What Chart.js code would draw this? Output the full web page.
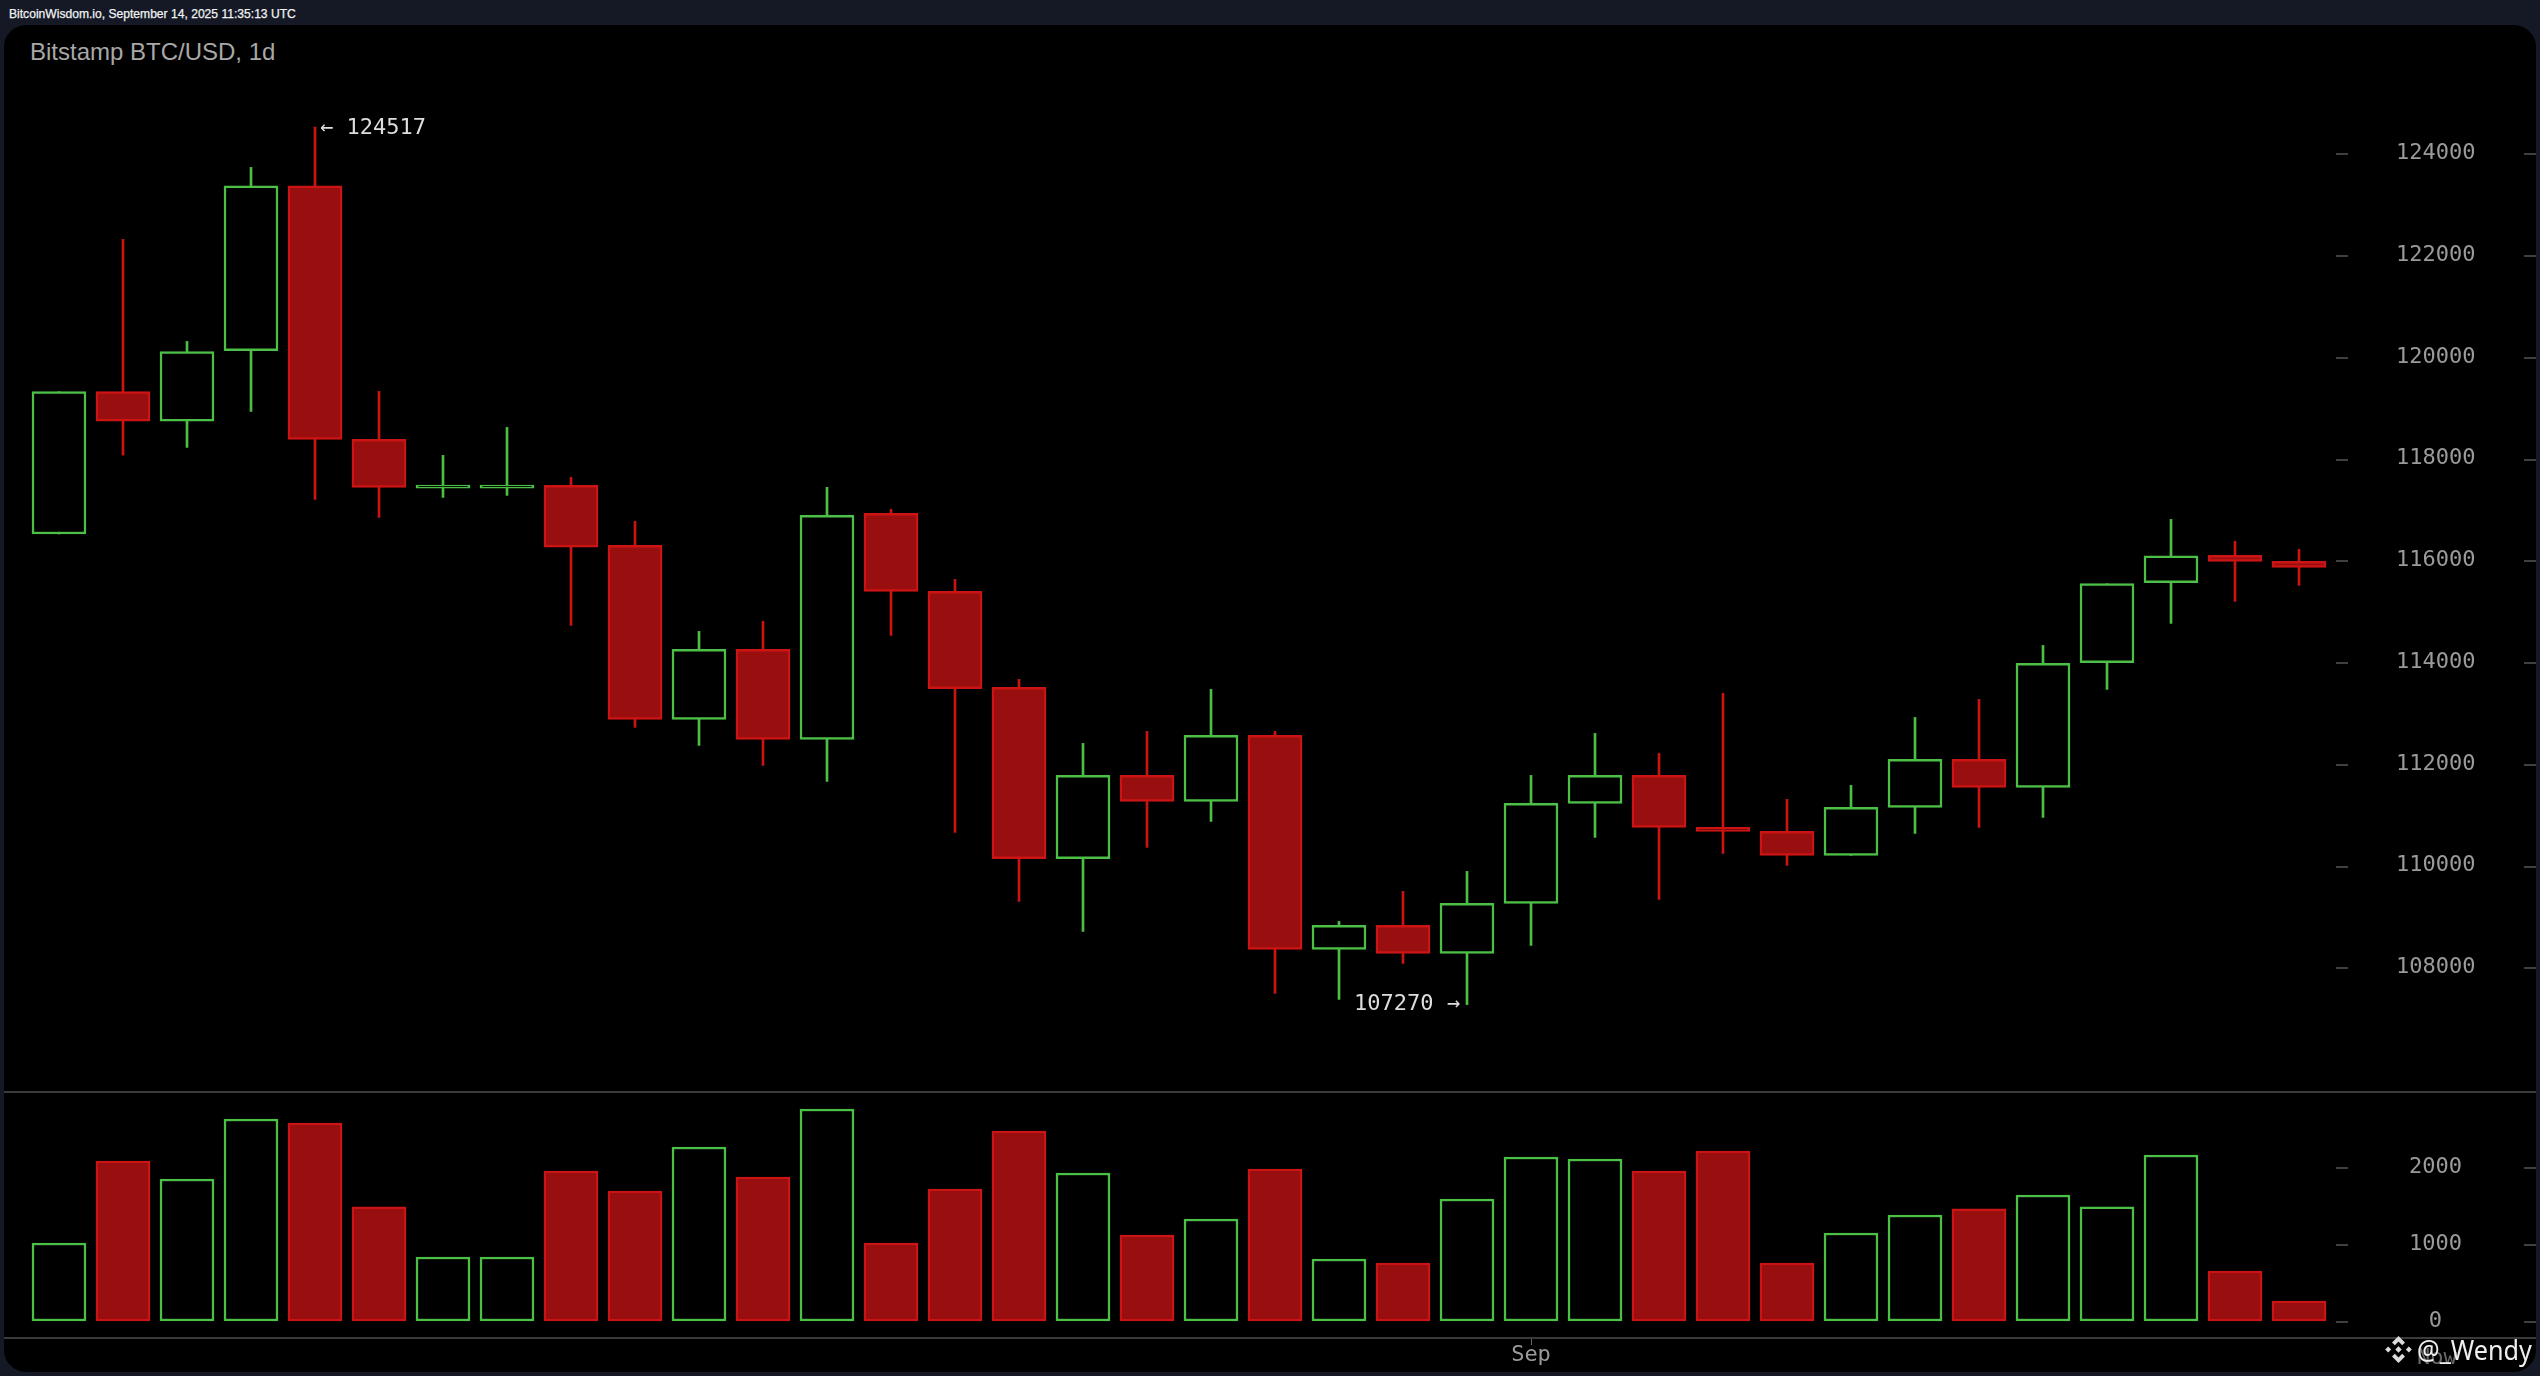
<!DOCTYPE html>
<html><head><meta charset="utf-8">
<style>
html,body{margin:0;padding:0;background:#141925;width:2540px;height:1376px;overflow:hidden}
#panel{position:absolute;left:4px;top:25px;width:2532px;height:1347px;background:#000;border-radius:22px}
canvas{position:absolute;left:0}
.sep{position:absolute;left:4px;width:2532px;height:2px;background:#3a3a3a}
.t{position:absolute;white-space:nowrap}
#stamp{left:9px;top:5px;font:12.1px/18px "Liberation Sans",Arial,sans-serif;color:#f2f2f2;-webkit-text-stroke:.25px #f2f2f2}
#title{left:30px;top:37px;font:24px/30px "Liberation Sans",Arial,sans-serif;color:#a8a8a8}
#now{left:2417px;top:1344px;font:22px/26px "DejaVu Sans Mono",monospace;color:#666}
#mark{left:2417px;top:1331px;font:28px/36px "Noto Sans",sans-serif;color:#eee;transform:scaleX(.9);transform-origin:left center}
#icon{position:absolute;left:2385px;top:1336px;width:27px;height:27px}
</style></head><body>
<div id="panel"></div>
<div class="t" id="stamp">BitcoinWisdom.io, September 14, 2025 11:35:13 UTC</div>
<div class="t" id="title">Bitstamp BTC/USD, 1d</div>
<canvas id="price" width="2540" height="1092" style="top:0"></canvas>
<canvas id="volume" width="2540" height="282" style="top:1094px"></canvas>
<div class="sep" style="top:1091px"></div>
<div class="sep" style="top:1337px"></div>
<div class="t" id="now">Now</div>
<svg id="icon" viewBox="0 0 27 27"><g fill="#dcdcdc">
<path d="M13.5 0 L20 6.5 L17.2 9.3 L13.5 5.6 L9.8 9.3 L7 6.5 Z"/>
<path d="M13.5 27 L7 20.5 L9.8 17.7 L13.5 21.4 L17.2 17.7 L20 20.5 Z"/>
<path d="M3.2 10.5 L6.2 13.5 L3.2 16.5 L0.2 13.5 Z"/>
<path d="M23.8 10.5 L26.8 13.5 L23.8 16.5 L20.8 13.5 Z"/>
<path d="M13.5 10.3 L16.7 13.5 L13.5 16.7 L10.3 13.5 Z"/></g></svg>
<div class="t" id="mark">@_Wendy</div>
<script src="https://cdn.jsdelivr.net/npm/chart.js@4"></script>
<script>
const categories = ["Aug 10","Aug 11","Aug 12","Aug 13","Aug 14","Aug 15","Aug 16","Aug 17","Aug 18","Aug 19","Aug 20","Aug 21","Aug 22","Aug 23","Aug 24","Aug 25","Aug 26","Aug 27","Aug 28","Aug 29","Aug 30","Aug 31","Sep 1","Sep 2","Sep 3","Sep 4","Sep 5","Sep 6","Sep 7","Sep 8","Sep 9","Sep 10","Sep 11","Sep 12","Sep 13","Sep 14"];
const open  = [116519,119316,118738,120121,123364,118378,117420,117420,117474,116295,112875,114251,112482,116924,115391,113504,110137,111774,111263,112561,108355,108826,108276,109259,111224,111774,110752,110674,110202,111145,112089,111539,113990,115562,116098,115980];
const close = [119316,118738,120102,123364,118378,117435,117480,117480,116261,112875,114251,112482,116884,115391,113478,110137,111774,111263,112561,108355,108826,108276,109259,111224,111774,110752,110674,110202,111145,112089,111539,113976,115542,116092,115980,115862];
const high  = [119316,122309,120304,123724,124517,119321,118064,118614,117631,116767,114605,114801,117435,117002,115627,113661,112403,112639,113465,112639,108905,109495,109888,111774,112600,112207,113386,111303,111578,112914,113268,114329,115542,116806,116373,116216];
const low   = [116519,118070,118221,118928,117199,116845,117238,117278,114722,112718,112364,111971,111657,114526,110654,109298,108708,110359,110870,107490,107372,108079,107270,108433,110556,109337,110241,110005,110202,110634,110752,110949,113465,114762,115194,115509];
const volume = [1013,2078,1844,2623,2571,1481,831,831,1948,1688,2260,1870,2753,1013,1714,2468,1922,1117,1325,1974,805,753,1584,2130,2104,1948,2208,753,1143,1377,1455,1636,1481,2156,649,260];
const priceTicks = [108000,110000,112000,114000,116000,118000,120000,122000,124000];
const volumeTicks = [0,1000,2000];
const monthTicks = {"Sep 2":"Sep"};
const GREEN="#4cc046", RED="#cc1414", REDFILL="#990e0e", MONO='"DejaVu Sans Mono", monospace';
const isUp = open.map((o,i)=>close[i]>=o);
const stroke = isUp.map(u=>u?GREEN:RED);
const fill = isUp.map(u=>u?"#000":REDFILL);
const tickFont={family:"DejaVu Sans Mono",size:22};
const fixY=s=>{s.width=209;s.paddingTop=0;s.paddingBottom=0;};

const tickMarks={id:"tickMarks",afterDraw(c){
  const y=c.scales.y,g=c.ctx;g.save();g.fillStyle="#3f3f3f";
  y.ticks.forEach((t,i)=>{const p=Math.round(y.getPixelForTick(i));g.fillRect(2336,p,12,2);g.fillRect(2524,p,12,2);});
  g.restore();}};
const extremes={id:"extremes",afterDatasetsDraw(c){
  const x=c.scales.x,y=c.scales.y,g=c.ctx;
  const hi=high.indexOf(Math.max(...high)),lo=low.indexOf(Math.min(...low));
  g.save();g.font='22px '+MONO;g.fillStyle="#dddddd";g.textBaseline="middle";
  g.textAlign="left";g.fillText("\u2190 "+high[hi],x.getPixelForValue(hi)+5,y.getPixelForValue(high[hi])+1);
  g.textAlign="right";g.fillText(low[lo]+" \u2192",x.getPixelForValue(lo)-7,y.getPixelForValue(low[lo]));
  g.restore();}};

new Chart(document.getElementById("price"),{type:"bar",
 data:{labels:categories,datasets:[
  {label:"Body",order:1,data:open.map((o,i)=>[o,close[i]]),barThickness:54,grouped:false,backgroundColor:fill,borderColor:stroke,borderWidth:2.5,borderSkipped:false},
  {label:"Wick",order:2,data:low.map((l,i)=>[l,high[i]]),barThickness:2,grouped:false,backgroundColor:stroke,borderWidth:0}
 ]},
 options:{responsive:false,animation:false,devicePixelRatio:1,layout:{autoPadding:false,padding:{left:27,right:0,top:0,bottom:0}},
  plugins:{legend:{display:false},tooltip:{enabled:false}},
  scales:{
   x:{display:false,grid:{display:false}},
   y:{position:"right",min:105552,max:127014,grid:{display:false},border:{display:false},
      afterFit:fixY,
      afterBuildTicks(s){s.ticks=priceTicks.map(v=>({value:v}));},
      ticks:{color:"#9a9a9a",font:tickFont,crossAlign:"center",padding:57,callback:v=>String(v)}}
  }},
 plugins:[tickMarks,extremes]});

new Chart(document.getElementById("volume"),{type:"bar",
 data:{labels:categories,datasets:[
  {label:"Volume",data:volume,barThickness:54,backgroundColor:fill,borderColor:stroke,borderWidth:2.5,borderSkipped:false}
 ]},
 options:{responsive:false,animation:false,devicePixelRatio:1,layout:{autoPadding:false,padding:{left:27,right:0,top:0,bottom:0}},
  plugins:{legend:{display:false},tooltip:{enabled:false}},
  scales:{
   x:{afterFit(s){s.height=38;},border:{display:false},
      grid:{offset:false,drawOnChartArea:false,tickLength:7,tickWidth:1,tickColor:c=>monthTicks[categories[c.index]]?"#666":"rgba(0,0,0,0)"},
      ticks:{autoSkip:false,maxRotation:0,padding:-3,color:"#9a9a9a",font:tickFont,callback:(v,i)=>monthTicks[categories[i]]||""}},
   y:{position:"right",min:-221,max:2948,grid:{display:false},border:{display:false},
      afterFit:fixY,
      afterBuildTicks(s){s.ticks=volumeTicks.map(v=>({value:v}));},
      ticks:{color:"#9a9a9a",font:tickFont,crossAlign:"center",padding:70,callback:v=>String(v)}}
  }},
 plugins:[tickMarks]});
</script>
</body></html>
